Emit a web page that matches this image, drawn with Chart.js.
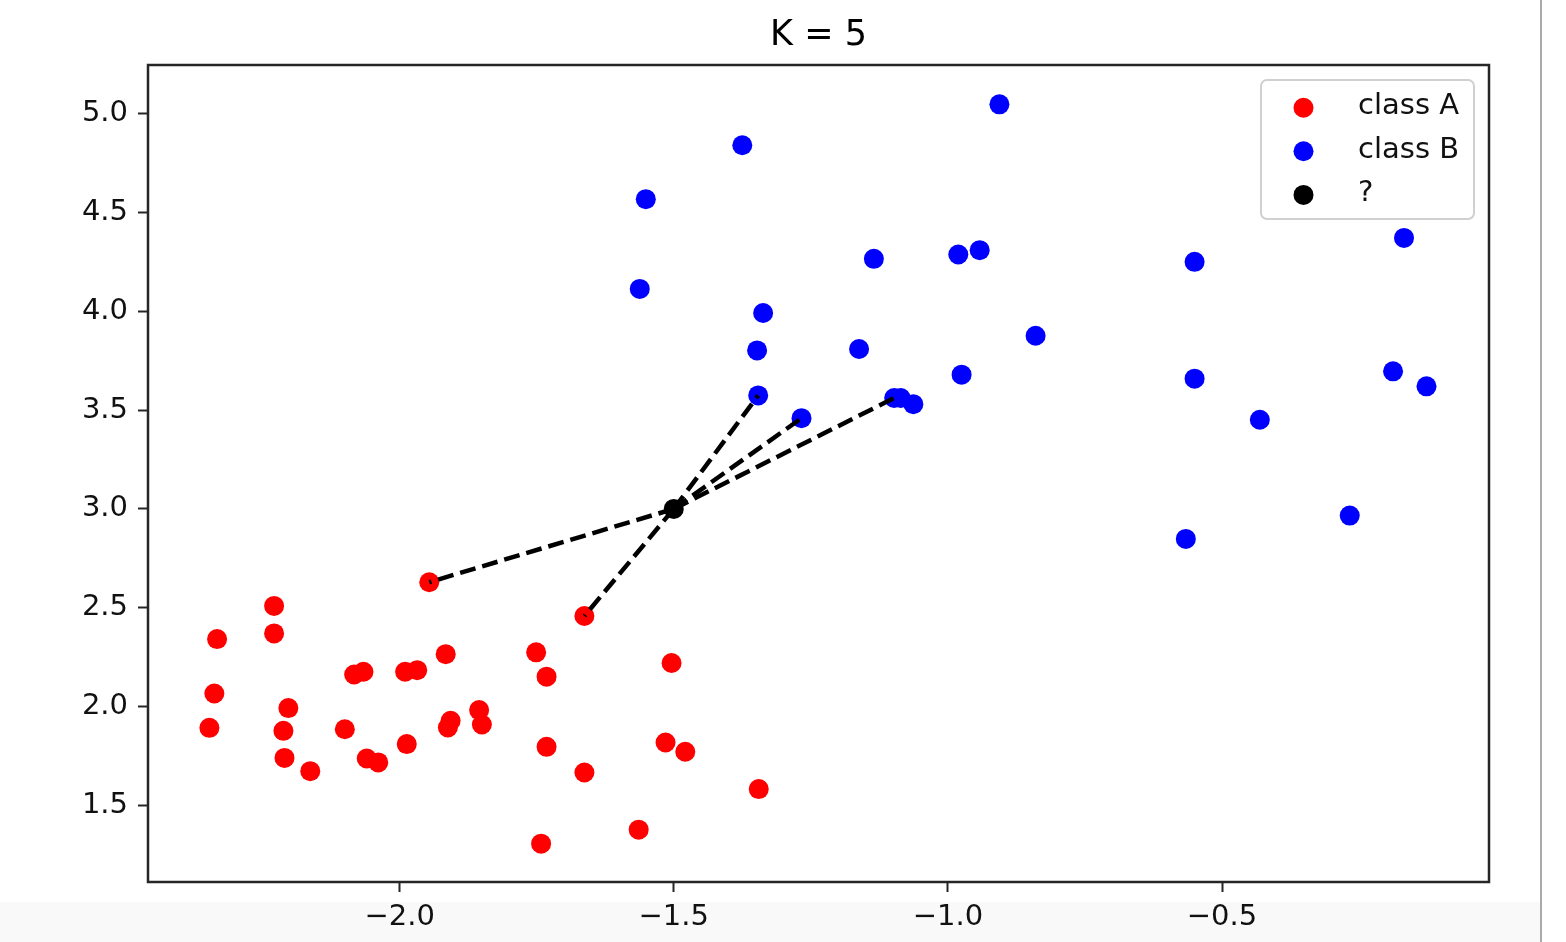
<!DOCTYPE html>
<html>
<head>
<meta charset="utf-8">
<title>K = 5</title>
<script src="https://cdn.jsdelivr.net/npm/chart.js@4.4.1/dist/chart.umd.min.js"></script>
<style>
    html, body { margin: 0; padding: 0; background: #fff; }
    #wrap { position: relative; width: 1566px; height: 942px; }
    #strip { position: absolute; left: 0; top: 902px; width: 1540px; height: 40px; background: #f9f9f9; }
    #edge { position: absolute; left: 1540px; top: 0; width: 2px; height: 942px; background: #aaa; }
    canvas { position: absolute; left: 0; top: 0; }
</style>
</head>
<body>
<div id="wrap">
    <div id="strip"></div>
    <div id="edge"></div>
    <canvas id="knnChart" width="1566" height="942"></canvas>
</div>
<script>
// Datos
const classA_x = [-1.946, -1.663, -2.229, -2.229, -2.333, -2.338, -2.347, -2.203, -2.212, -2.210,
                  -2.163, -2.100, -2.083, -2.066, -2.060, -2.039, -1.990, -1.968, -1.987, -1.916,
                  -1.912, -1.907, -1.855, -1.850, -1.751, -1.732, -1.732, -1.663, -1.742, -1.504,
                  -1.515, -1.479, -1.345, -1.564];
const classA_y = [2.629, 2.458, 2.509, 2.370, 2.341, 2.066, 1.892, 1.992, 1.877, 1.740,
                  1.673, 1.885, 2.162, 2.176, 1.737, 1.717, 2.176, 2.184, 1.810, 2.265,
                  1.894, 1.928, 1.982, 1.909, 2.274, 2.151, 1.796, 1.666, 1.306, 2.220,
                  1.818, 1.771, 1.582, 1.377];

const classB_x = [-0.906, -1.375, -1.551, -1.562, -1.135, -0.981, -0.942, -1.337, -1.348, -1.162,
                  -0.840, -0.975, -1.346, -1.267, -1.098, -1.086, -1.063, -0.168, -0.550, -0.550,
                  -0.431, -0.188, -0.127, -0.267, -0.566];
const classB_y = [5.047, 4.840, 4.567, 4.113, 4.265, 4.287, 4.309, 3.991, 3.802, 3.809,
                  3.876, 3.679, 3.574, 3.459, 3.561, 3.561, 3.530, 4.371, 4.250, 3.659,
                  3.451, 3.696, 3.620, 2.966, 2.848];

// Punto a clasificar y sus K vecinos (índices en cada clase)
const query = [-1.5, 3.0];
const K = 5;
const neighborsA = [0, 1];
const neighborsB = [12, 13, 14];

const xTicks = [-2.0, -1.5, -1.0, -0.5];
const yTicks = [1.5, 2.0, 2.5, 3.0, 3.5, 4.0, 4.5, 5.0];

const FONT = '"DejaVu Sans", "Liberation Sans", sans-serif';
const INK = '#262626';

// Construir puntos
const toPoints = (xs, ys) => xs.map((x, i) => ({ x: x, y: ys[i] }));
const pointsA = toPoints(classA_x, classA_y);
const pointsB = toPoints(classB_x, classB_y);

const neighbors = neighborsA.map(i => pointsA[i]).concat(neighborsB.map(i => pointsB[i]));

const neighborLines = neighbors.map(p => ({
    data: [{ x: query[0], y: query[1] }, p],
    showLine: true,
    borderColor: '#000',
    borderWidth: 4.5,
    borderDash: [16, 7],
    pointRadius: 0,
    order: 0
}));

const dot = (label, data, color) => ({
    label: label,
    data: data,
    backgroundColor: color,
    borderColor: color,
    borderWidth: 0,
    pointRadius: 10,
    pointHoverRadius: 10,
    order: 1
});

// Leyenda con marco, dentro del área del gráfico
const boxLegend = {
    id: 'boxLegend',
    afterDraw(chart) {
        const ctx = chart.ctx;
        const area = chart.chartArea;
        const items = chart.data.datasets.filter(d => d.label);
        const w = 213, h = 139;
        const x0 = area.right - 228, y0 = area.top + 15;
        ctx.save();
        ctx.fillStyle = 'rgba(255,255,255,0.8)';
        ctx.strokeStyle = '#d0d0d0';
        ctx.lineWidth = 2;
        ctx.beginPath();
        ctx.roundRect(x0, y0, w, h, 6);
        ctx.fill();
        ctx.stroke();
        ctx.font = '29px ' + FONT;
        ctx.textBaseline = 'middle';
        items.forEach((d, i) => {
            const cy = y0 + 27.7 + i * 43.6;
            ctx.fillStyle = d.backgroundColor;
            ctx.beginPath();
            ctx.arc(x0 + 42.5, cy, 10, 0, Math.PI * 2);
            ctx.fill();
            ctx.fillStyle = '#111';
            ctx.fillText(d.label, x0 + 97, cy - 1);
        });
        ctx.restore();
    }
};

// Marco de los ejes
const frame = {
    id: 'frame',
    afterDatasetsDraw(chart) {
        const a = chart.chartArea;
        const ctx = chart.ctx;
        ctx.save();
        ctx.strokeStyle = INK;
        ctx.lineWidth = 2.5;
        ctx.strokeRect(a.left, a.top, a.right - a.left, a.bottom - a.top);
        ctx.restore();
    }
};

const fmt = v => v.toFixed(1).replace('-', '\u2212');

const ctx = document.getElementById('knnChart').getContext('2d');
new Chart(ctx, {
    type: 'scatter',
    data: {
        datasets: [
            dot('class A', pointsA, '#ff0000'),
            dot('class B', pointsB, '#0000ff'),
            dot('?', [{ x: query[0], y: query[1] }], '#000000')
        ].concat(neighborLines)
    },
    options: {
        responsive: false,
        animation: false,
        devicePixelRatio: 1,
        layout: { padding: { left: 0, right: 77, top: 0, bottom: 0 } },
        plugins: {
            legend: { display: false },
            tooltip: { enabled: false },
            title: {
                display: true,
                fullSize: false,
                text: 'K = ' + K,
                color: '#000',
                font: { family: FONT, size: 35, weight: 'normal' },
                padding: { top: 15, bottom: 8 }
            }
        },
        scales: {
            x: {
                type: 'linear',
                min: -2.459,
                max: -0.013,
                afterBuildTicks: s => { s.ticks = xTicks.map(v => ({ value: v })); },
                afterFit: s => { s.height = 60; },
                ticks: {
                    callback: fmt,
                    color: '#111',
                    font: { family: FONT, size: 29 },
                    padding: 8,
                    maxRotation: 0
                },
                grid: { drawOnChartArea: false, tickLength: 10, tickWidth: 2, tickColor: INK },
                border: { display: false }
            },
            y: {
                type: 'linear',
                min: 1.112,
                max: 5.246,
                afterBuildTicks: s => { s.ticks = yTicks.map(v => ({ value: v })); },
                afterFit: s => { s.width = 148; },
                ticks: {
                    callback: fmt,
                    color: '#111',
                    font: { family: FONT, size: 29 },
                    padding: 10
                },
                grid: { drawOnChartArea: false, tickLength: 10, tickWidth: 2, tickColor: INK },
                border: { display: false }
            }
        }
    },
    plugins: [boxLegend, frame]
});
</script>
</body>
</html>
